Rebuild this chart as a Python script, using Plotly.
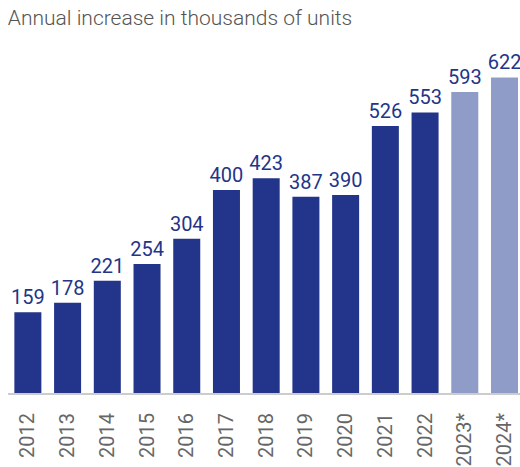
import plotly.graph_objects as go

years = ['2012', '2013', '2014', '2015', '2016', '2017', '2018', '2019',
         '2020', '2021', '2022', '2023*', '2024*']
increase = [159, 178, 221, 254, 304, 400, 423, 387, 390, 526, 553, 593, 622]
forecast = [False] * 11 + [True, True]

dark = '#22358a'
light = '#8f9cc7'
bar_colors = [light if f else dark for f in forecast]

fig = go.Figure(go.Bar(
    x=years, y=increase,
    marker=dict(color=bar_colors, line_width=0),
    text=[str(v) for v in increase],
    textposition='outside',
    constraintext='none',
    textfont=dict(family='Roboto', size=20, color=dark),
    cliponaxis=False,
))

fig.update_layout(
    width=520, height=467,
    margin=dict(l=8, r=0, t=40, b=71),
    plot_bgcolor='white', paper_bgcolor='white',
    bargap=0.32,
    showlegend=False,
    title=dict(text='Annual increase in thousands of units',
               x=0.015, xanchor='left', y=0.962, yanchor='middle',
               font=dict(family='Roboto', size=21, color='#555555', weight=300)),
)
fig.update_xaxes(
    type='category', range=[-0.5, 12.39],
    tickangle=-90, tickfont=dict(family='Roboto', size=20, color='#666666'),
    ticks='outside', ticklen=10, tickcolor='white',
    showline=True, linecolor='#cccccc', linewidth=2,
    showgrid=False,
)
fig.update_yaxes(range=[0, 695.7], visible=False, showgrid=False)

# drop the browser's default body margin so the figure sits at 0,0
fig.write_html('out.html', config={'displayModeBar': False},
               post_script="document.body.style.margin='0px';")
